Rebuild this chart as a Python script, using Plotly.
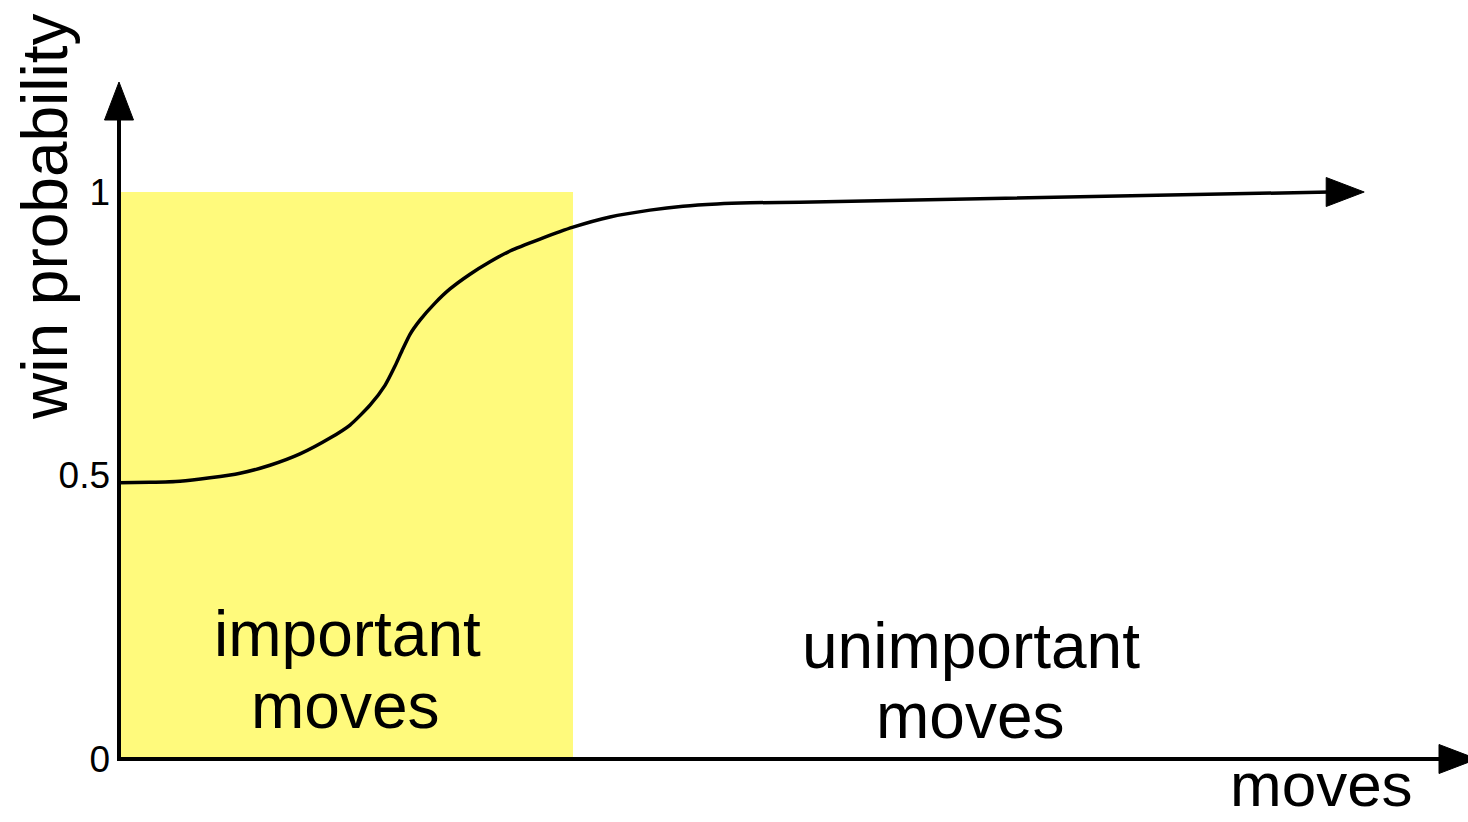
import plotly.graph_objects as go

# ---- data (x in arbitrary "moves" units, y = win probability)
moves = [0, 3.1, 6.1, 9.1, 12.1, 15.1, 18.1, 21.1, 23.1, 25.1, 26.6, 27.6, 28.3,
         29.1, 30.1, 31.6, 33.1, 35.1, 37.1, 39.1, 42.1, 45.4, 49.1, 53.1, 56.4,
         59.8, 63.1, 68.1, 121.1]
win_prob = [0.487, 0.488, 0.490, 0.496, 0.504, 0.518, 0.538, 0.566, 0.589, 0.624,
            0.659, 0.693, 0.720, 0.749, 0.774, 0.804, 0.829, 0.855, 0.877, 0.896,
            0.917, 0.938, 0.956, 0.968, 0.975, 0.979, 0.981, 0.982, 1.0]
important_end = 45.4          # end of the "important moves" region
y_ticks = [0, 0.5, 1]
y_tick_labels = ["0", "0.5", "1"]
region_labels = [
    ("important", 22.8, 0.220),
    ("moves", 22.6, 0.093),
    ("unimportant", 85.2, 0.199),
    ("moves", 85.1, 0.076),
]

# ---- layout geometry
W, H = 1468, 822
ML, MB = 119, 63
X_RANGE = [0, (W - ML) / 10]
Y_RANGE = [0, (H - MB) / 567]
px_x = (X_RANGE[1] - X_RANGE[0]) / (W - ML)     # data units per pixel (x)
px_y = (Y_RANGE[1] - Y_RANGE[0]) / (H - MB)     # data units per pixel (y)


def paper_x(xd):
    return (xd - X_RANGE[0]) / (X_RANGE[1] - X_RANGE[0])


def paper_y(yd):
    return (yd - Y_RANGE[0]) / (Y_RANGE[1] - Y_RANGE[0])


FONT = "Liberation Sans, Arial, Helvetica, sans-serif"
YELLOW = "#FFFA7C"
AX_W = 4
HEAD_L, HEAD_HW = 38, 14.5   # arrowhead length / half width in pixels

fig = go.Figure()

# important region
fig.add_shape(type="rect", xref="x", yref="y", x0=0, x1=important_end, y0=0, y1=1,
              fillcolor=YELLOW, line_width=0, layer="below")

# curve
fig.add_trace(go.Scatter(x=moves, y=win_prob, mode="lines",
                         line=dict(color="black", width=3.5, shape="spline", smoothing=0.6),
                         hoverinfo="skip", showlegend=False))


def head(xt, yt, direction):
    """filled triangular arrowhead with tip at (xt, yt) in data units (drawn in paper refs)"""
    if direction == "right":
        xb = xt - HEAD_L * px_x
        pts = [(xt, yt), (xb, yt + HEAD_HW * px_y), (xb, yt - HEAD_HW * px_y)]
    else:  # up
        yb = yt - HEAD_L * px_y
        pts = [(xt, yt), (xt - HEAD_HW * px_x, yb), (xt + HEAD_HW * px_x, yb)]
    pts = [(paper_x(a), paper_y(b)) for a, b in pts]
    path = "M {} {} L {} {} L {} {} Z".format(*[v for p in pts for v in p])
    fig.add_shape(type="path", xref="paper", yref="paper", path=path,
                  fillcolor="black", line=dict(color="black", width=1))


# curve arrowhead
tip_x = moves[-1] + HEAD_L * px_x * 0.9
head(tip_x, win_prob[-1], "right")

# axes
y_tip = Y_RANGE[1] - 82 * px_y
x_tip = X_RANGE[1] + 9 * px_x
fig.add_shape(type="line", xref="paper", yref="paper", x0=paper_x(0), y0=paper_y(0),
              x1=paper_x(0), y1=paper_y(y_tip - HEAD_L * px_y + 2 * px_y),
              line=dict(color="black", width=AX_W))
fig.add_shape(type="line", xref="paper", yref="paper", x0=paper_x(-AX_W / 2 * px_x),
              y0=paper_y(0), x1=paper_x(x_tip - HEAD_L * px_x + 2 * px_x), y1=paper_y(0),
              line=dict(color="black", width=AX_W))
head(0, y_tip, "up")
head(x_tip, 0, "right")

# region labels
for txt, x, y in region_labels:
    fig.add_annotation(x=x, y=y, xref="x", yref="y", text=txt, showarrow=False,
                       font=dict(family=FONT, size=64, color="black"),
                       xanchor="center", yanchor="middle")

# axis titles
fig.add_annotation(x=paper_x((1321 - ML) * px_x), y=paper_y(-25 * px_y),
                   xref="paper", yref="paper", text="moves",
                   showarrow=False, font=dict(family=FONT, size=62, color="black"),
                   xanchor="center", yanchor="middle")
fig.add_annotation(x=paper_x((45 - ML) * px_x), y=paper_y((H - MB - 217) * px_y),
                   xref="paper", yref="paper",
                   text="win probability", textangle=-90, showarrow=False,
                   font=dict(family=FONT, size=64, color="black"),
                   xanchor="center", yanchor="middle")

fig.update_layout(
    width=W, height=H,
    margin=dict(l=ML, r=0, t=0, b=MB, pad=0),
    plot_bgcolor="white", paper_bgcolor="white",
    showlegend=False,
    xaxis=dict(range=X_RANGE, showgrid=False, zeroline=False, showline=False,
               showticklabels=False, ticks=""),
    yaxis=dict(range=Y_RANGE, showgrid=False, zeroline=False, showline=False,
               tickvals=y_ticks, ticktext=y_tick_labels, ticks="",
               ticklabelstandoff=8,
               tickfont=dict(family=FONT, size=37, color="black")),
)

fig.write_html("out.html", config={"displayModeBar": False},
               post_script="document.body.style.margin='0';")
